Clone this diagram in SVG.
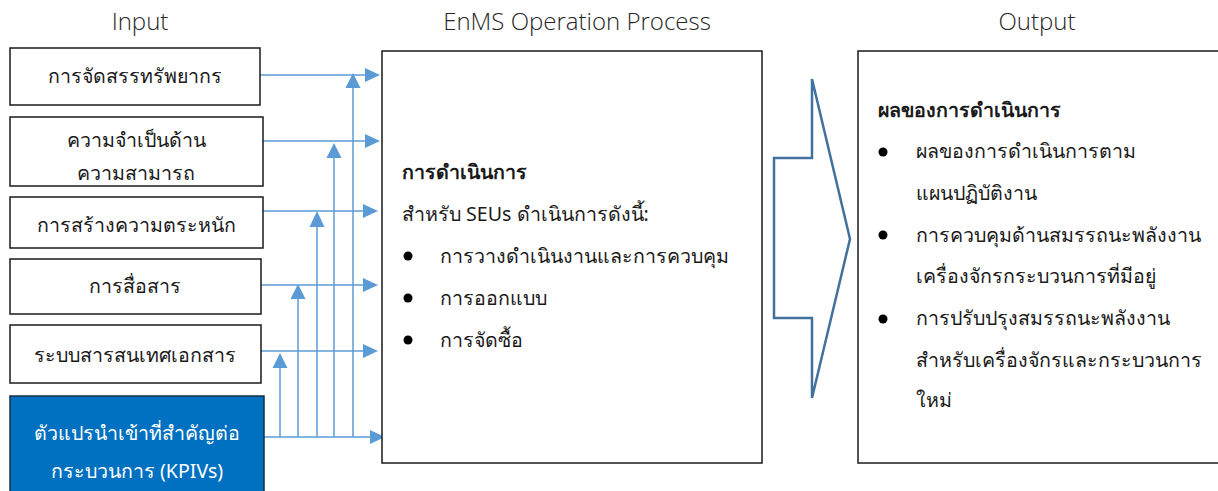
<svg xmlns="http://www.w3.org/2000/svg" width="1218" height="491" viewBox="0 0 1218 491">
<style>
.hdr{font-family:"Open Sans","Noto Sans",sans-serif;font-size:24px;font-weight:300;fill:#262626;text-anchor:middle}
.box{fill:#ffffff;stroke:#1a1a1a;stroke-width:1.5}
.t{font-family:"Noto Sans","Open Sans",sans-serif;font-size:19.6px;fill:#1a1a1a}
.c{text-anchor:middle}
.b{font-weight:bold}
.w{fill:#ffffff}
.ln{stroke:#5B9BD5;stroke-width:1.5;fill:none}
.ah{fill:#5B9BD5}
</style>
<rect width="1218" height="491" fill="#ffffff"/>
<text class="hdr" x="140" y="30">Input</text>
<text class="hdr" x="577" y="30">EnMS Operation Process</text>
<text class="hdr" x="1037" y="30">Output</text>

<g id="connectors">
<line class="ln" x1="260" y1="75" x2="366" y2="75"/>
<line class="ln" x1="263" y1="141" x2="366" y2="141"/>
<line class="ln" x1="263" y1="211" x2="366" y2="211"/>
<line class="ln" x1="261" y1="285" x2="366" y2="285"/>
<line class="ln" x1="261" y1="351" x2="366" y2="351"/>
<line class="ln" x1="264" y1="437" x2="370" y2="437"/>
<polygon class="ah" points="380,75 365,68 365,82"/>
<polygon class="ah" points="380,141 365,134 365,148"/>
<polygon class="ah" points="378,211 363,204 363,218"/>
<polygon class="ah" points="378,285 363,278 363,292"/>
<polygon class="ah" points="378,351 363,344 363,358"/>
<polygon class="ah" points="385,437 370,430 370,444"/>
<line class="ln" x1="353" y1="437" x2="353" y2="86"/>
<line class="ln" x1="334" y1="437" x2="334" y2="157"/>
<line class="ln" x1="317" y1="437" x2="317" y2="226"/>
<line class="ln" x1="298" y1="437" x2="298" y2="298"/>
<line class="ln" x1="280" y1="437" x2="280" y2="367"/>
<polygon class="ah" points="353,73 345.5,88 360.5,88"/>
<polygon class="ah" points="334,143 326.5,158 341.5,158"/>
<polygon class="ah" points="317,211 309.5,227 324.5,227"/>
<polygon class="ah" points="298,284 290.5,299 305.5,299"/>
<polygon class="ah" points="280,353 272.5,368 287.5,368"/>
</g>

<g id="in1"><rect class="box" x="10" y="48" width="250" height="57"/><text class="t c" x="135" y="83">การจัดสรรทรัพยากร</text></g>
<g id="in2"><rect class="box" x="10" y="117" width="253" height="69"/><text class="t c" x="136" y="147">ความจำเป็นด้าน</text><text class="t c" x="136" y="180">ความสามารถ</text></g>
<g id="in3"><rect class="box" x="10" y="197" width="253" height="51"/><text class="t c" x="136" y="232">การสร้างความตระหนัก</text></g>
<g id="in4"><rect class="box" x="10" y="259" width="251" height="55"/><text class="t c" x="135" y="293">การสื่อสาร</text></g>
<g id="in5"><rect class="box" x="10" y="325" width="251" height="58"/><text class="t c" x="135" y="362">ระบบสารสนเทศเอกสาร</text></g>
<g id="in6"><rect x="10" y="396" width="254" height="100" fill="#0070C0" stroke="#1a2f45" stroke-width="1.5"/><text class="t c w" x="137" y="440">ตัวแปรนำเข้าที่สำคัญต่อ</text><text class="t c w" x="137" y="478">กระบวนการ (KPIVs)</text></g>

<g id="process">
<rect class="box" x="382" y="51" width="380" height="412"/>
<text class="t b" x="402" y="179">การดำเนินการ</text>
<text class="t" x="402" y="221">สำหรับ SEUs ดำเนินการดังนี้:</text>
<circle cx="408" cy="256" r="4.5" fill="#000"/>
<circle cx="408" cy="298" r="4.5" fill="#000"/>
<circle cx="408" cy="340" r="4.5" fill="#000"/>
<text class="t" x="440" y="263">การวางดำเนินงานและการควบคุม</text>
<text class="t" x="440" y="305">การออกแบบ</text>
<text class="t" x="440" y="347">การจัดซื้อ</text>
</g>

<g id="bigarrow">
<polygon points="774,158 812,158 812,79 850,239 812,398 812,318 774,318" fill="#ffffff" stroke="#41719C" stroke-width="2.5" stroke-linejoin="miter"/>
</g>

<g id="output">
<rect class="box" x="858" y="51" width="370" height="412"/>
<text class="t b" x="878" y="117">ผลของการดำเนินการ</text>
<circle cx="883" cy="152" r="4.5" fill="#000"/>
<circle cx="883" cy="235" r="4.5" fill="#000"/>
<circle cx="883" cy="319" r="4.5" fill="#000"/>
<text class="t" x="916" y="158">ผลของการดำเนินการตาม</text>
<text class="t" x="916" y="200">แผนปฏิบัติงาน</text>
<text class="t" x="916" y="242">การควบคุมด้านสมรรถนะพลังงาน</text>
<text class="t" x="916" y="283">เครื่องจักรกระบวนการที่มีอยู่</text>
<text class="t" x="916" y="325">การปรับปรุงสมรรถนะพลังงาน</text>
<text class="t" x="916" y="367">สำหรับเครื่องจักรและกระบวนการ</text>
<text class="t" x="916" y="407">ใหม่</text>
</g>
</svg>
